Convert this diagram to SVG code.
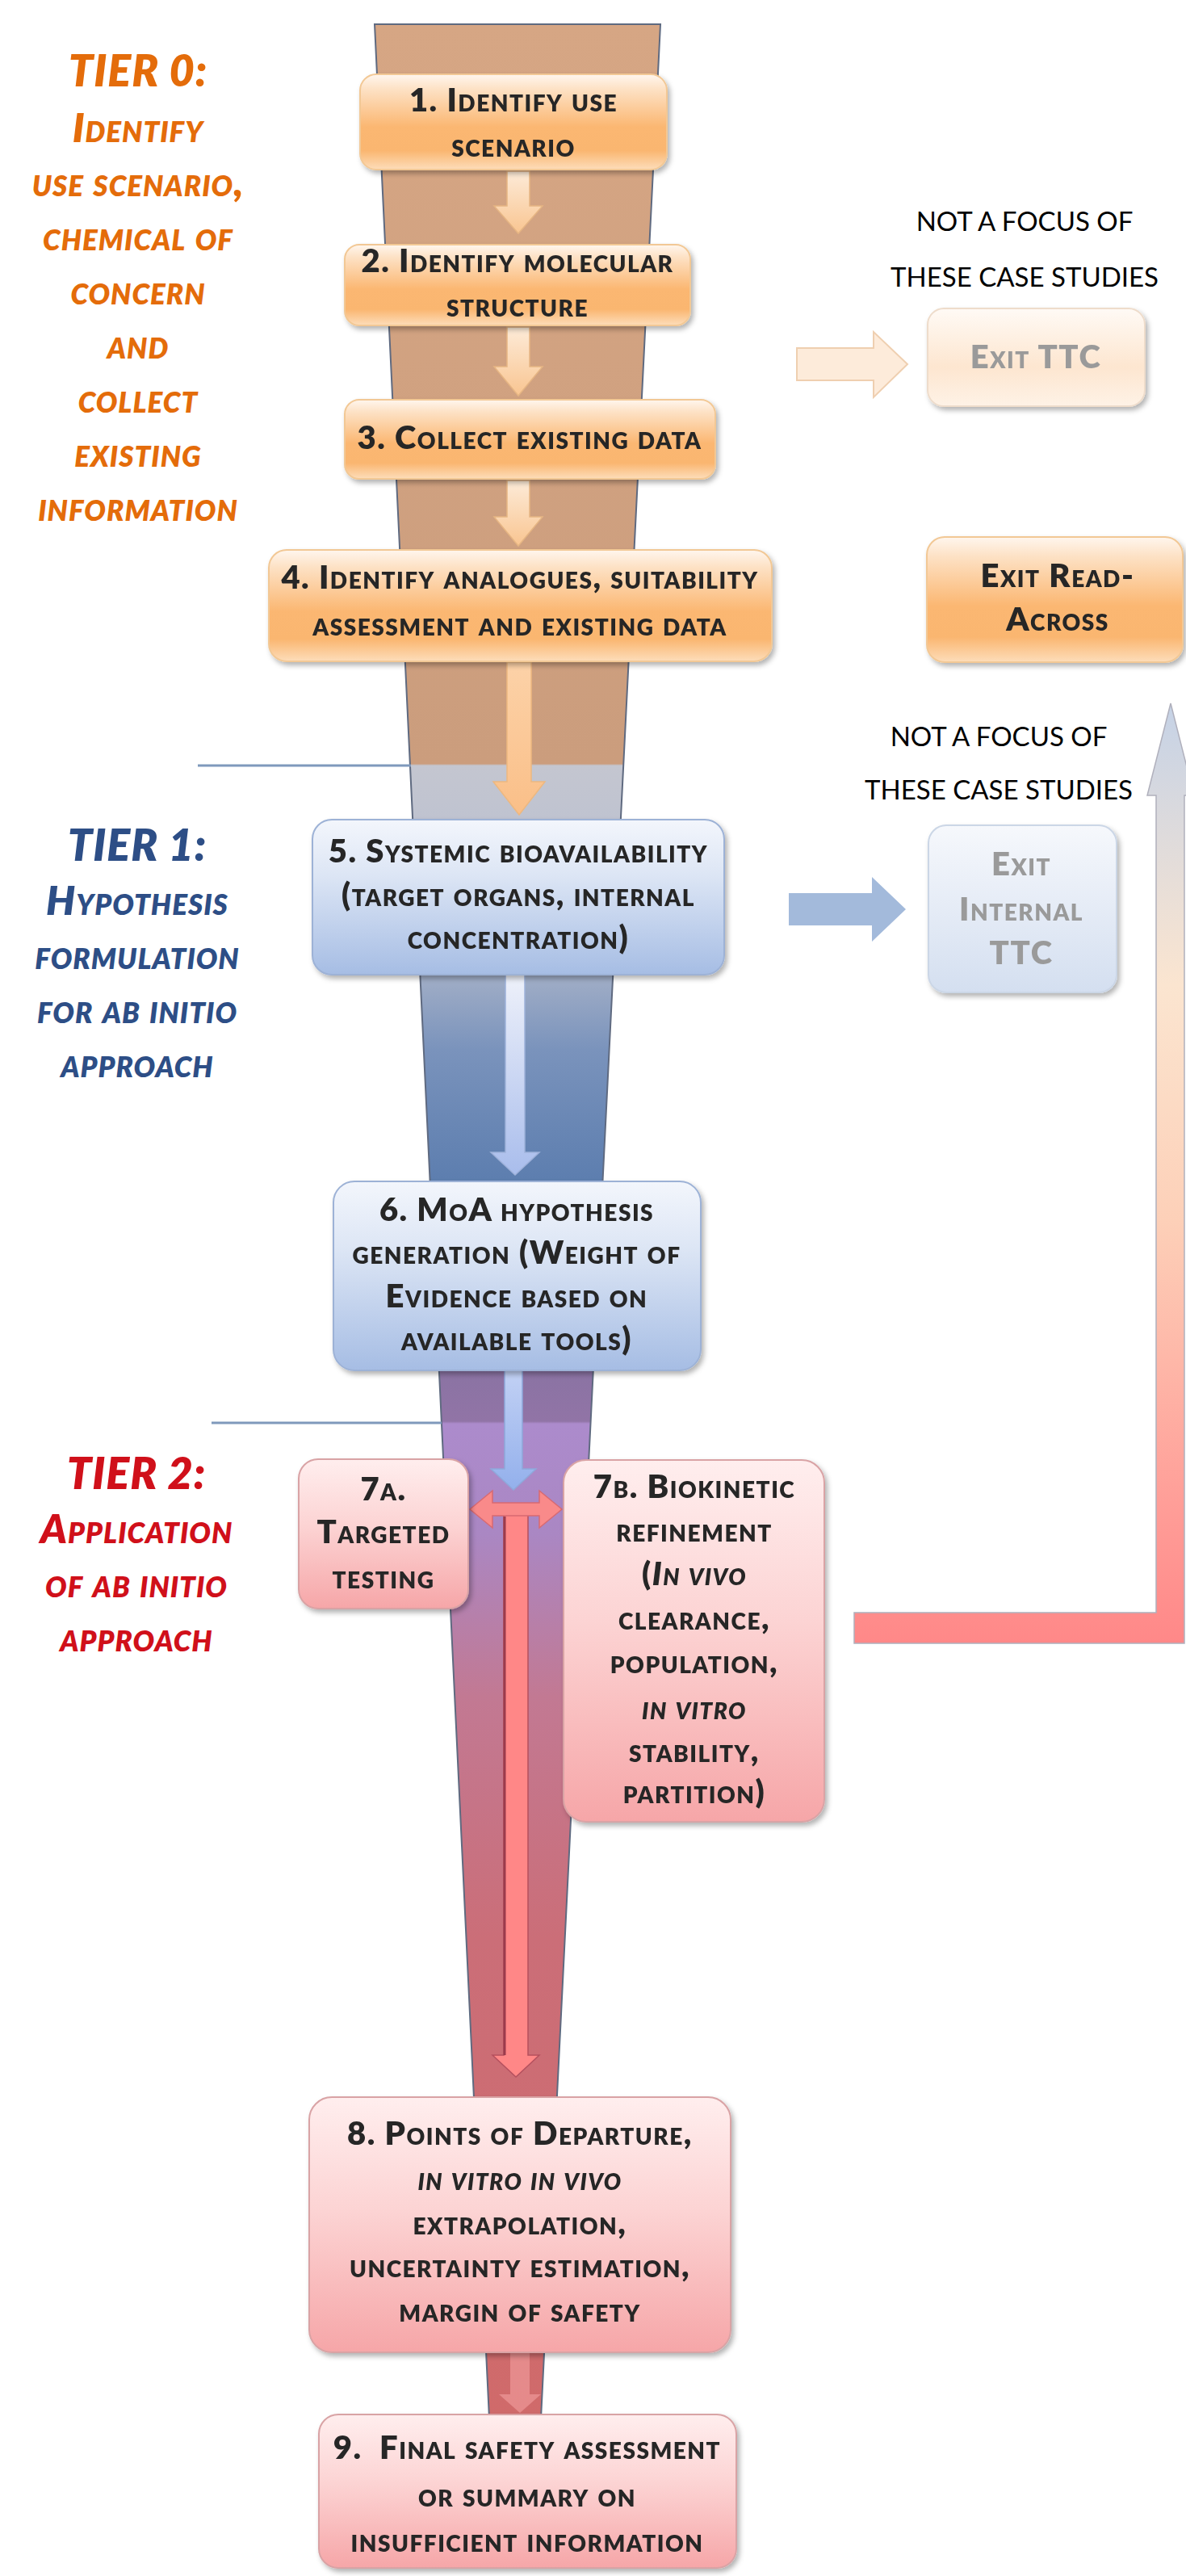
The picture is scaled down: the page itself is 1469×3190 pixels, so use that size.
<svg xmlns="http://www.w3.org/2000/svg" width="1469" height="3190" viewBox="0 0 1469 3190">
<defs>
<style>
.t{font-family:Lato,"Open Sans","Liberation Sans",sans-serif;font-weight:800;font-variant:small-caps;font-size:40px;fill:#262626;text-anchor:middle;letter-spacing:1.5px}
.g{fill:#9a9a9a}
.it{font-style:italic}
.tier{font-family:Lato,"Open Sans","Liberation Sans",sans-serif;font-weight:800;font-style:italic;font-variant:small-caps;font-size:50px;text-anchor:middle;letter-spacing:1px}
.tt{font-size:54px;font-variant:normal}
.t0{fill:#E46C0A}.t1{fill:#2D4E86}.t2{fill:#D0101A}
.note{font-family:Lato,"Open Sans","Liberation Sans",sans-serif;font-size:33px;fill:#000;text-anchor:middle}
.or{fill:url(#gOr);stroke:#F2C895;stroke-width:2}
.bl{fill:url(#gBl);stroke:#9DB2D6;stroke-width:2}
.pk{fill:url(#gPk);stroke:#D9A3A5;stroke-width:2}
.orf{fill:url(#gOrF);stroke:#EEDCCB;stroke-width:2}
.blf{fill:url(#gBlF);stroke:#CBD6E6;stroke-width:2}
.sh{filter:url(#sh)}
.div{stroke:#7F99BC;stroke-width:3}
.a0{fill:url(#gA0);stroke:#E6B583;stroke-width:1.5}
</style>
<filter id="sh" x="-10%" y="-10%" width="125%" height="130%"><feDropShadow dx="3" dy="4" stdDeviation="3" flood-color="#000" flood-opacity="0.3"/></filter>
<linearGradient id="gOr" x1="0" y1="0" x2="0" y2="1"><stop offset="0" stop-color="#FFF6EE"/><stop offset="0.15" stop-color="#FDE2C6"/><stop offset="0.55" stop-color="#FBB772"/><stop offset="0.8" stop-color="#FAB670"/><stop offset="1" stop-color="#FDDDBA"/></linearGradient>
<linearGradient id="gBl" x1="0" y1="0" x2="0" y2="1"><stop offset="0" stop-color="#F3F6FC"/><stop offset="0.35" stop-color="#DDE6F5"/><stop offset="1" stop-color="#A6BDE4"/></linearGradient>
<linearGradient id="gPk" x1="0" y1="0" x2="0" y2="1"><stop offset="0" stop-color="#FFEEEE"/><stop offset="0.45" stop-color="#FCD3D3"/><stop offset="1" stop-color="#F6A6A8"/></linearGradient>
<linearGradient id="gOrF" x1="0" y1="0" x2="0" y2="1"><stop offset="0" stop-color="#FFFAF5"/><stop offset="0.6" stop-color="#FDE6D0"/><stop offset="1" stop-color="#FEF2E6"/></linearGradient>
<linearGradient id="gBlF" x1="0" y1="0" x2="0" y2="1"><stop offset="0" stop-color="#F6F8FC"/><stop offset="1" stop-color="#D4DFF0"/></linearGradient>
<linearGradient id="gA0" x1="0" y1="0" x2="0" y2="1"><stop offset="0" stop-color="#FDEBD8"/><stop offset="1" stop-color="#F9C591"/></linearGradient>
<linearGradient id="gA4" x1="0" y1="0" x2="0" y2="1"><stop offset="0" stop-color="#FCD2A8"/><stop offset="1" stop-color="#FABF88"/></linearGradient>
<linearGradient id="gA5" x1="0" y1="0" x2="0" y2="1"><stop offset="0" stop-color="#EEF1FA"/><stop offset="1" stop-color="#A9BDEC"/></linearGradient>
<linearGradient id="gA6" x1="0" y1="0" x2="0" y2="1"><stop offset="0" stop-color="#C2D1F4"/><stop offset="1" stop-color="#93B0EC"/></linearGradient>
<linearGradient id="gF" gradientUnits="userSpaceOnUse" x1="0" y1="30" x2="0" y2="2995">
<stop offset="0" stop-color="#D6A684"/><stop offset="0.3089" stop-color="#CB9D7D"/><stop offset="0.3096" stop-color="#C4C6D0"/><stop offset="0.3322" stop-color="#BFC3D0"/><stop offset="0.398" stop-color="#A0ADC6"/><stop offset="0.4283" stop-color="#7A93BC"/><stop offset="0.4823" stop-color="#5D7EAF"/><stop offset="0.5599" stop-color="#8A73A3"/><stop offset="0.5835" stop-color="#9174A6"/><stop offset="0.5845" stop-color="#AC8BCC"/><stop offset="0.6307" stop-color="#AA87C3"/><stop offset="0.6981" stop-color="#C27993"/><stop offset="0.7993" stop-color="#CB6E78"/><stop offset="1" stop-color="#D06A6A"/>
</linearGradient>
<linearGradient id="gUp" gradientUnits="userSpaceOnUse" x1="0" y1="871" x2="0" y2="2035"><stop offset="0" stop-color="#C5D2E6"/><stop offset="0.3" stop-color="#FBE5D0"/><stop offset="0.55" stop-color="#FDD0B8"/><stop offset="0.85" stop-color="#FF9E98"/><stop offset="1" stop-color="#FF8888"/></linearGradient>
</defs>
<rect width="1469" height="3190" fill="#fff"/>

<g id="funnel">
<polygon points="464,30 818,30 670,2995 606,2995" fill="url(#gF)" stroke="#5F6A80" stroke-width="2"/>
</g>

<g id="tier-dividers">
<line class="div" x1="245" y1="948" x2="509" y2="948"/>
<line class="div" x1="262" y1="1762" x2="547" y2="1762"/>
</g>

<g id="tier0-label">
<text class="tier t0"><tspan class="tt" x="171" y="107">TIER 0:</tspan><tspan x="171" y="176">Identify</tspan><tspan x="171" y="243">use scenario,</tspan><tspan x="171" y="310">chemical of</tspan><tspan x="171" y="377">concern</tspan><tspan x="171" y="444">and</tspan><tspan x="171" y="511">collect</tspan><tspan x="171" y="578">existing</tspan><tspan x="171" y="645">information</tspan></text>
</g>
<g id="tier1-label">
<text class="tier t1"><tspan class="tt" x="170" y="1066">TIER 1:</tspan><tspan x="170" y="1133">Hypothesis</tspan><tspan x="170" y="1200">formulation</tspan><tspan x="170" y="1267">for ab initio</tspan><tspan x="170" y="1334">approach</tspan></text>
</g>
<g id="tier2-label">
<text class="tier t2"><tspan class="tt" x="169" y="1844">TIER 2:</tspan><tspan x="169" y="1911">Application</tspan><tspan x="169" y="1978">of ab initio</tspan><tspan x="169" y="2045">approach</tspan></text>
</g>

<g id="notes">
<text class="note"><tspan x="1269" y="286">NOT A FOCUS OF</tspan><tspan x="1269" y="355">THESE CASE STUDIES</tspan></text>
<text class="note"><tspan x="1237" y="924">NOT A FOCUS OF</tspan><tspan x="1237" y="990">THESE CASE STUDIES</tspan></text>
</g>

<g id="connectors">
<path class="a0" d="M628,212H656V255H672L642,289L612,255H628Z"/>
<path class="a0" d="M628,405H656V454H672L642,490L612,454H628Z"/>
<path class="a0" d="M628,595H656V640H672L642,676L612,640H628Z"/>
<path d="M628,820H658V968H675L643,1009L611,968H628Z" fill="url(#gA4)" stroke="#EDB880" stroke-width="1.5"/>
<path d="M626,1207H650V1427H668L638,1455L608,1427H626Z" fill="url(#gA5)" stroke="#9FB2DA" stroke-width="1.5"/>
<path d="M625,1697H647V1819H664L636,1845L608,1819H625Z" fill="url(#gA6)" stroke="#8FA8DA" stroke-width="1.5"/>
<path d="M624,1869H654V2545H668L639,2572L610,2545H624Z" fill="#FF8787" stroke="#B5505E" stroke-width="1.5"/>
<line x1="625" y1="1878" x2="625" y2="2545" stroke="#9B3B4C" stroke-width="3"/>
<path d="M582,1869L610,1846V1861H668V1846L696,1869L668,1892V1877H610V1892Z" fill="#F98A8A" stroke="#D86A72" stroke-width="1.5"/>
<path d="M632,2913H656V2965H670L644,2988L618,2965H632Z" fill="#F4A0A0" opacity="0.6"/>
<path d="M987,431H1082V411L1124,451L1082,492V471H987Z" fill="#FDEBDA" stroke="#EFCFB0" stroke-width="2"/>
<path d="M977,1106H1080V1086L1122,1126L1080,1166V1146H977Z" fill="#A3BADB"/>
<path d="M1058,1997H1432V985H1421L1450,871L1479,985H1467V2035H1058Z" fill="url(#gUp)" stroke="#B0B0BC" stroke-width="1.5"/>
</g>

<g id="node-1" class="sh"><rect class="or" x="446" y="92" width="380" height="118" rx="20"/><text class="t"><tspan x="636" y="138">1. Identify use</tspan><tspan x="636" y="194">scenario</tspan></text></g>
<g id="node-2" class="sh"><rect class="or" x="427" y="303" width="428" height="100" rx="18"/><text class="t"><tspan x="641" y="337">2. Identify molecular</tspan><tspan x="641" y="392">structure</tspan></text></g>
<g id="node-3" class="sh"><rect class="or" x="427" y="495" width="459" height="98" rx="18"/><text class="t"><tspan x="656" y="556">3. Collect existing data</tspan></text></g>
<g id="node-4" class="sh"><rect class="or" x="333" y="681" width="623" height="138" rx="22"/><text class="t"><tspan x="644" y="729">4. Identify analogues, suitability</tspan><tspan x="644" y="787">assessment and existing data</tspan></text></g>
<g id="node-exit-ttc" class="sh"><rect class="orf" x="1149" y="382" width="269" height="121" rx="20"/><text class="t g"><tspan x="1283" y="456">Exit TTC</tspan></text></g>
<g id="node-exit-read-across" class="sh"><rect class="or" x="1148" y="665" width="317" height="155" rx="22"/><text class="t"><tspan x="1310" y="727">Exit Read-</tspan><tspan x="1310" y="781">Across</tspan></text></g>
<g id="node-5" class="sh"><rect class="bl" x="387" y="1015" width="510" height="192" rx="24"/><text class="t"><tspan x="642" y="1068">5. Systemic bioavailability</tspan><tspan x="642" y="1122">(target organs, internal</tspan><tspan x="642" y="1175">concentration)</tspan></text></g>
<g id="node-exit-internal-ttc" class="sh"><rect class="blf" x="1150" y="1022" width="233" height="207" rx="22"/><text class="t g"><tspan x="1265" y="1084">Exit</tspan><tspan x="1265" y="1140">Internal</tspan><tspan x="1265" y="1194">TTC</tspan></text></g>
<g id="node-6" class="sh"><rect class="bl" x="413" y="1463" width="455" height="234" rx="26"/><text class="t"><tspan x="640" y="1512">6. MoA hypothesis</tspan><tspan x="640" y="1565">generation (Weight of</tspan><tspan x="640" y="1619">Evidence based on</tspan><tspan x="640" y="1672">available tools)</tspan></text></g>
<g id="node-7a" class="sh"><rect class="pk" x="370" y="1807" width="210" height="185" rx="24"/><text class="t"><tspan x="475" y="1858">7a.</tspan><tspan x="475" y="1911">Targeted</tspan><tspan x="475" y="1967">testing</tspan></text></g>
<g id="node-7b" class="sh"><rect class="pk" x="698" y="1808" width="323" height="448" rx="28"/><text class="t"><tspan x="860" y="1855">7b. Biokinetic</tspan><tspan x="860" y="1909">refinement</tspan><tspan x="860" y="1963">(<tspan class="it">In vivo</tspan></tspan><tspan x="860" y="2018">clearance,</tspan><tspan x="860" y="2072">population,</tspan><tspan x="860" y="2129" class="it">in vitro</tspan><tspan x="860" y="2182">stability,</tspan><tspan x="860" y="2233">partition)</tspan></text></g>
<g id="node-8" class="sh"><rect class="pk" x="383" y="2597" width="522" height="316" rx="28"/><text class="t"><tspan x="644" y="2656">8. Points of Departure,</tspan><tspan x="644" y="2712" class="it">in vitro in vivo</tspan><tspan x="644" y="2767">extrapolation,</tspan><tspan x="644" y="2820">uncertainty estimation,</tspan><tspan x="644" y="2875">margin of safety</tspan></text></g>
<g id="node-9" class="sh"><rect class="pk" x="395" y="2990" width="517" height="190" rx="24"/><text class="t"><tspan x="653" y="3045">9.&#160; Final safety assessment</tspan><tspan x="653" y="3104">or summary on</tspan><tspan x="653" y="3160">insufficient information</tspan></text></g>
</svg>
